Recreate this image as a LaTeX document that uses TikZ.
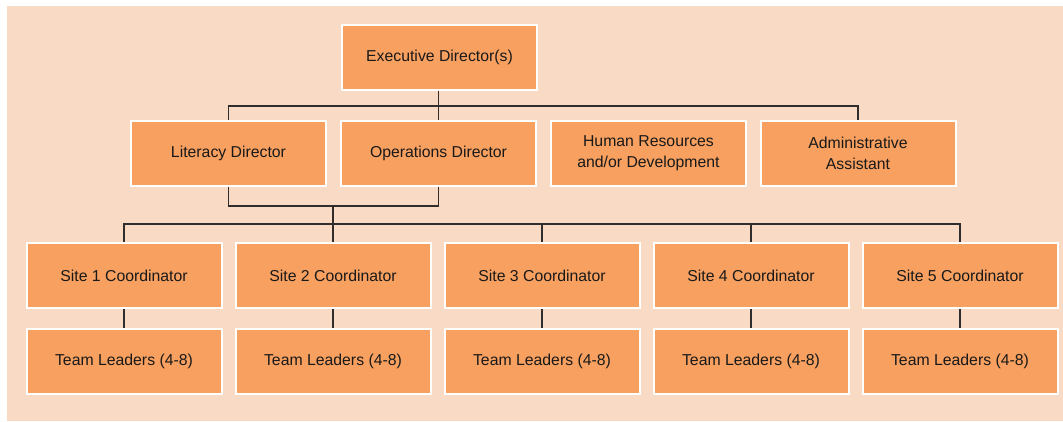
\documentclass[tikz,border=0pt]{standalone}
\usepackage{fontspec}
\setmainfont{Liberation Sans}
\usetikzlibrary{positioning}
\definecolor{peach}{RGB}{248,218,197}
\definecolor{boxorange}{RGB}{247,160,96}
\definecolor{linegray}{RGB}{50,45,45}
\tikzset{
  orgbox/.style={rectangle, draw=white, line width=2pt, fill=boxorange, minimum height=65, minimum width=195, inner sep=0pt, align=center, text=black!90, font=\fontsize{15.8}{21}\selectfont},
  link/.style={draw=linegray, line width=1.1pt}
}
\begin{document}
\begin{tikzpicture}[x=1pt, y=-1pt]
    \useasboundingbox (0,0) rectangle (1063,421);
    \fill[white] (0,0) rectangle (1063,421);
    \fill[peach] (7,6) rectangle (1063,421);
    % Nodes
    \node (exec) [orgbox] at (439.5,57) {Executive Director(s)};
    \node (lit) [orgbox] at (228.5,153.5) {Literacy Director};
    \node (ops) [orgbox] at (438.5,153.5) {Operations Director};
    \node (hr) [orgbox] at (648.5,153.5) {Human Resources\\and/or Development};
    \node (admin) [orgbox] at (858,153.5) {Administrative\\Assistant};
    \foreach \i/\x in {1/124, 2/333, 3/542, 4/751, 5/960} {
      \node (site\i) [orgbox] at (\x,275.5) {Site \i\ Coordinator};
      \node (team\i) [orgbox] at (\x,361.5) {Team Leaders (4-8)};
    }
    % Lines
    \coordinate (topbar) at (0,106);
    \coordinate (sitebar) at (0,224);
    \draw[link] (lit.north) -- (lit.north |- topbar) -- (admin.north |- topbar) -- (admin.north);
    \draw[link] (exec.south -| ops.north) -- (ops.north);
    \draw[link] (lit.south) -- ++(0,19) coordinate (join) -| (ops.south);
    \draw[link] (site2.north |- join) -- (site2.north);
    \draw[link] (site1.north) -- (site1.north |- sitebar) -- (site5.north |- sitebar) -- (site5.north);
    \foreach \i in {3,4} {
      \draw[link] (site\i.north |- sitebar) -- (site\i.north);
    }
    \foreach \i in {1,...,5} {
      \draw[link] (site\i) -- (team\i);
    }
  \end{tikzpicture}
\end{document}
